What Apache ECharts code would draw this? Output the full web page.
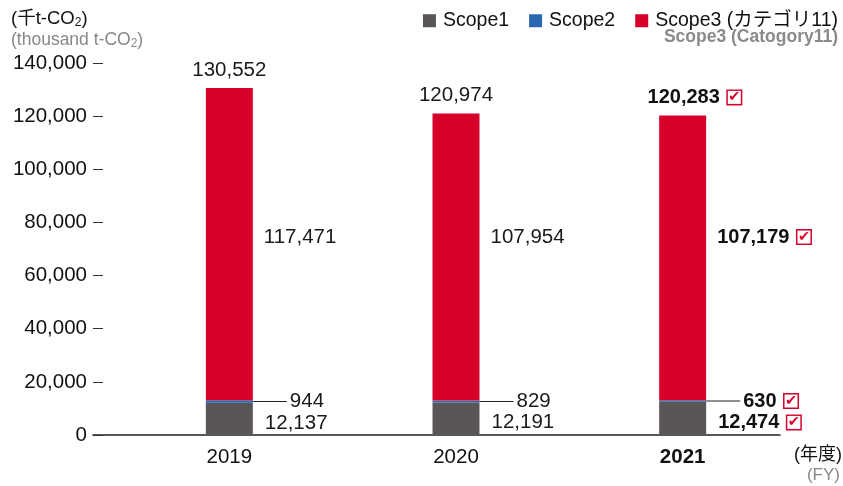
<!DOCTYPE html>
<html>
<head>
<meta charset="utf-8">
<script src="https://cdn.jsdelivr.net/npm/echarts@6/dist/echarts.min.js"></script>
<style>
  html, body { margin: 0; padding: 0; background: #fff; }
  #chart { width: 843px; height: 486px; }
</style>
</head>
<body>
<div id="chart"></div>
<script>
const years = ['2019', '2020', '2021'];
const scope1 = [12137, 12191, 12474];
const scope2 = [944, 829, 630];
const scope3 = [117471, 107954, 107179];
const totals = [130552, 120974, 120283];
const yMax = 140000;
const yStep = 20000;
// Scope3 values are all printed at the same height in the source chart
const scope3LabelLevel = 74500;

const FONT = 'Liberation Sans, Arial, Noto Sans CJK JP, sans-serif';
const RED = '#d7002a';
const fmt = v => v.toLocaleString('en-US');
const last = years.length - 1;

// rich styles shared by the value labels
const rich = {
  n: { fontSize: 20.5, color: '#1a1a1a', fontFamily: FONT },
  b: { fontSize: 20, color: '#111', fontWeight: 'bold', fontFamily: FONT },
  chk: {
    width: 13, height: 13, lineHeight: 15, align: 'center',
    borderColor: RED, borderWidth: 1.5, backgroundColor: '#fff',
    color: RED, fontSize: 14.5, fontFamily: 'DejaVu Sans'
  },
  g2: { width: 8 },
  sp: { width: 23 },
  line: { width: 34, height: 1, backgroundColor: '#222', verticalAlign: 'middle' },
  gap: { width: 3 }
};

function valueText(i, v) {
  return i === last ? '{b|' + fmt(v) + '}{g2|}{chk|✔}' : '{n|' + fmt(v) + '}';
}

const chart = echarts.init(document.getElementById('chart'));

const option = {
  animation: false,
  textStyle: { fontFamily: FONT },
  title: {
    text: '(千t-CO{s|2})',
    subtext: '(thousand t-CO{s|2})',
    left: 6, top: 5, itemGap: 3,
    textStyle: {
      fontSize: 18.5, color: '#111', fontWeight: 'normal', fontFamily: FONT,
      rich: { s: { fontSize: 12, color: '#111', padding: [6, 0, 0, 0], fontFamily: FONT } }
    },
    subtextStyle: {
      fontSize: 17.5, color: '#888', fontFamily: FONT,
      rich: { s: { fontSize: 12, color: '#888', padding: [6, 0, 0, 0], fontFamily: FONT } }
    }
  },
  legend: {
    right: 0, top: 6,
    icon: 'rect', itemWidth: 13, itemHeight: 13, itemGap: 20,
    textStyle: { fontSize: 19.5, color: '#111', fontFamily: FONT, padding: [0, 0, 0, 2] },
    formatter: name => name.replace('（', ' (').replace('）', ')'),
    data: ['Scope1', 'Scope2', 'Scope3（カテゴリ11）']
  },
  graphic: [
    { type: 'text', right: 5, top: 28,
      style: { text: 'Scope3 (Catogory11)', fontSize: 17.5, fontWeight: 'bold', fill: '#8a8a8a', fontFamily: FONT } },
    { type: 'text', right: 1, top: 446,
      style: { text: '(年度)', fontSize: 18, fill: '#111', fontFamily: FONT } },
    { type: 'text', right: 3, top: 467,
      style: { text: '(FY)', fontSize: 17, fill: '#888', fontFamily: FONT } }
  ],
  grid: [
    { left: 116, right: 47, top: 63, bottom: 51 },
    { left: 93, right: 63, top: 63, bottom: 51 }
  ],
  xAxis: [
    {
      type: 'category', gridIndex: 0, data: years,
      axisLine: { show: false }, axisTick: { show: false },
      axisLabel: {
        fontSize: 20.5, color: '#111', margin: 12,
        formatter: (v, i) => i === last ? '{b|' + v + '}' : v,
        rich: { b: { fontSize: 20.5, fontWeight: 'bold', color: '#111', fontFamily: FONT } }
      }
    },
    {
      type: 'value', gridIndex: 1, min: 0, max: 1,
      axisLine: { show: true, lineStyle: { color: '#222', width: 1.5 } },
      axisTick: { show: false }, axisLabel: { show: false }, splitLine: { show: false }
    }
  ],
  yAxis: [
    { type: 'value', gridIndex: 0, min: 0, max: yMax, interval: yStep, show: false },
    {
      type: 'value', gridIndex: 1, min: 0, max: yMax, interval: yStep,
      axisLine: { show: false },
      axisTick: { show: true, inside: true, length: 10, lineStyle: { color: '#333', width: 1 } },
      axisLabel: { fontSize: 20.5, color: '#111', margin: 6, formatter: v => fmt(v) },
      splitLine: { show: false }
    }
  ],
  series: [
    {
      name: 'Scope1', type: 'bar', stack: 'co2', barWidth: 47,
      xAxisIndex: 0, yAxisIndex: 0,
      itemStyle: { color: '#5a5657' },
      data: scope1,
      label: {
        show: true, position: 'right', distance: 12, offset: [0, 4],
        formatter: p => valueText(p.dataIndex, p.value), rich: rich
      }
    },
    {
      name: 'Scope2', type: 'bar', stack: 'co2', barWidth: 47,
      xAxisIndex: 0, yAxisIndex: 0,
      itemStyle: { color: '#2a68b1' },
      data: scope2,
      label: {
        show: true, position: 'right', distance: 0,
        formatter: p => '{line|}{gap|}' + valueText(p.dataIndex, p.value), rich: rich
      }
    },
    {
      name: 'Scope3（カテゴリ11）', type: 'bar', stack: 'co2', barWidth: 47,
      xAxisIndex: 0, yAxisIndex: 0,
      itemStyle: { color: RED },
      data: scope3,
      label: {
        show: true, position: 'right', distance: 11,
        formatter: p => valueText(p.dataIndex, p.value), rich: rich
      },
      labelLayout: () => ({
        y: chart.convertToPixel({ yAxisIndex: 0 }, scope3LabelLevel),
        verticalAlign: 'middle'
      })
    },
    {
      name: 'total', type: 'bar', barWidth: 47, barGap: '-100%',
      xAxisIndex: 0, yAxisIndex: 0,
      itemStyle: { color: 'rgba(0,0,0,0)' },
      data: totals,
      silent: true,
      label: {
        show: true, position: 'top', distance: 8,
        formatter: p => p.dataIndex === last ? '{sp|}' + valueText(p.dataIndex, p.value) : valueText(p.dataIndex, p.value),
        rich: rich
      }
    }
  ]
};

chart.setOption(option);
</script>
</body>
</html>
